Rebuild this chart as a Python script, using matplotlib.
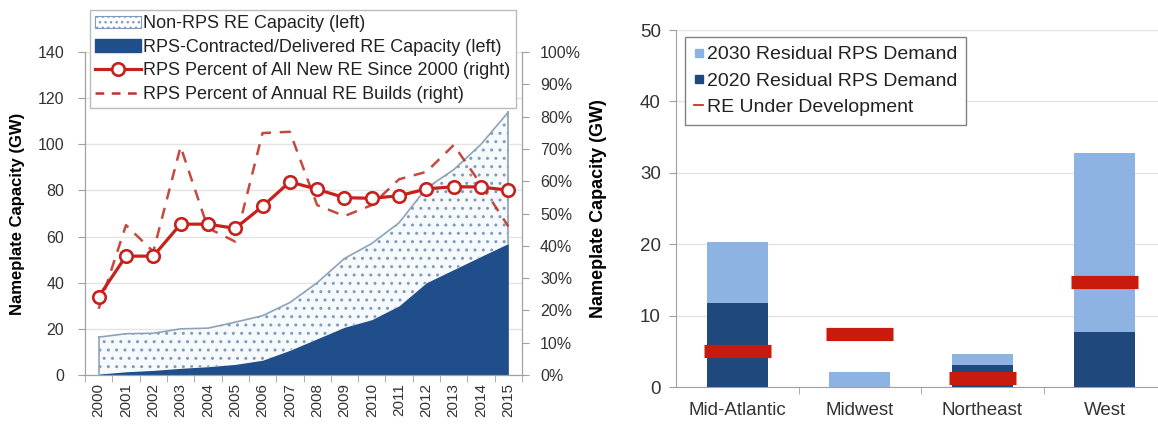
import matplotlib.pyplot as plt
import numpy as np
from matplotlib.patches import Patch
from matplotlib.lines import Line2D

plt.rcParams['font.family'] = ['Liberation Sans', 'DejaVu Sans']

# left panel data
years = [str(y) for y in range(2000, 2016)]
total_re = [16.4, 17.9, 18.1, 20, 20.3, 22.9, 25.7, 31.4, 40, 50.5, 57, 66, 81, 89, 100, 114]
rps_re = [0.4, 1.4, 2, 2.9, 3.6, 4.6, 6.4, 10.7, 15.7, 20.7, 24, 30, 40, 45.7, 51.4, 57]
pct_cum = [24.2, 36.8, 36.8, 46.7, 46.7, 45.4, 52.2, 59.8, 57.5, 54.9, 54.7, 55.5, 57.6, 58.3, 58.2, 57.2]
pct_annual = [20.5, 46.4, 38.2, 70.7, 45.5, 41.3, 74.9, 75.3, 52.6, 49.2, 52.6, 60.6, 62.9, 71.2, 59, 46]

# right panel data
regions = ['Mid-Atlantic', 'Midwest', 'Northeast', 'West']
demand_2030 = [20.3, 2.1, 4.6, 32.8]
demand_2020 = [11.7, 0, 3.1, 7.7]
re_dev = [5.0, 7.4, 1.3, 14.7]

W, H = 1158, 425
fig = plt.figure(figsize=(W / 100, H / 100), dpi=100)

dark = '#1F4E8A'
red = '#C8201C'
grid_c = '#E4E4E4'
spine_c = '#A0A0A0'
txt_c = '#333333'

# ---- left panel ----
ax1 = fig.add_axes([85 / W, 1 - 375 / H, 437 / W, 323 / H])
ax2 = ax1.twinx()
x = np.arange(len(years))

ax1.fill_between(x, rps_re, total_re, facecolor='#F7FAFD', edgecolor='#7F9CBB',
                 hatch='..', linewidth=0)
ax1.plot(x, total_re, color='#8FA3B5', lw=1.2)
ax1.plot([x[0], x[0]], [rps_re[0], total_re[0]], color='#8FA3B5', lw=1.2)
ax1.plot([x[-1], x[-1]], [rps_re[-1], total_re[-1]], color='#8FA3B5', lw=1.2)
ax1.fill_between(x, 0, rps_re, color=dark, linewidth=0)

ax2.plot(x, pct_annual, color='#C0352B', lw=1.8, dashes=(4.5, 3.5), alpha=0.9)
ax2.plot(x, pct_cum, color=red, lw=2.3, marker='o', markersize=9,
         markerfacecolor='white', markeredgecolor=red, markeredgewidth=1.9)

ax1.set_xlim(-0.5, 15.5)
ax1.set_ylim(0, 140)
ax2.set_ylim(0, 100)
ax1.set_yticks(range(0, 141, 20))
ax2.set_yticks(range(0, 101, 10))
ax2.set_yticklabels([f'{v}%' for v in range(0, 101, 10)])
ax1.set_xticks(x)
ax1.set_xticklabels(years, rotation=90)
ax1.set_xticks(np.arange(-0.5, 16, 1), minor=True)
ax1.tick_params(axis='x', which='major', length=0, pad=6, labelsize=11, labelcolor=txt_c)
ax1.tick_params(axis='x', which='minor', length=5, color=spine_c)
ax1.tick_params(axis='y', length=5, color=spine_c, labelsize=11.5, labelcolor=txt_c, pad=10)
ax2.tick_params(axis='y', length=5, color=spine_c, labelsize=11.5, labelcolor=txt_c, pad=8)
ax1.yaxis.grid(True, color=grid_c, lw=1)
ax1.set_axisbelow(True)
for a in (ax1, ax2):
    a.spines['top'].set_visible(False)
    for s in ('left', 'right', 'bottom'):
        a.spines[s].set_color(spine_c)
ax1.set_ylabel('Nameplate Capacity (GW)', fontsize=12, fontweight='bold')
ax1.yaxis.set_label_coords(-0.137, 0.5)

handles = [
    Patch(facecolor='white', edgecolor='#7F9CBB', hatch='...', linewidth=0.8),
    Patch(facecolor=dark, edgecolor=dark),
    Line2D([], [], color=red, lw=2.3, marker='o', markersize=9,
           markerfacecolor='white', markeredgecolor=red, markeredgewidth=1.9),
    Line2D([], [], color='#C0352B', lw=1.8, dashes=(3.5, 3)),
]
labels = ['Non-RPS RE Capacity (left)', 'RPS-Contracted/Delivered RE Capacity (left)',
          'RPS Percent of All New RE Since 2000 (right)', 'RPS Percent of Annual RE Builds (right)']
leg1 = fig.legend(handles, labels, loc='upper left', bbox_to_anchor=(90 / W, 1 - 10 / H),
                  bbox_transform=fig.transFigure, fontsize=13, frameon=True, fancybox=False,
                  edgecolor='#BBBBBB', framealpha=1, handlelength=2.5, handletextpad=0.15,
                  labelspacing=0.36, borderpad=0.3, borderaxespad=0)
leg1.get_frame().set_linewidth(1.0)
for t in leg1.get_texts():
    t.set_color('#222222')

# ---- right panel ----
ax3 = fig.add_axes([676 / W, 1 - 387 / H, 490 / W, 357 / H])
xr = np.arange(len(regions))
ax3.bar(xr, demand_2030, width=0.5, color='#8DB3E2', zorder=2)
ax3.bar(xr, demand_2020, width=0.5, color='#1F497D', zorder=3)
ax3.hlines(re_dev, xr - 0.275, xr + 0.275, color='#C81B0E', lw=9.5, zorder=4)

ax3.set_xlim(-0.5, 3.5)
ax3.set_ylim(0, 50)
ax3.set_yticks(range(0, 51, 10))
ax3.set_xticks(xr)
ax3.set_xticklabels(regions)
ax3.set_xticks(np.arange(0.5, 3, 1), minor=True)
ax3.tick_params(axis='x', which='major', length=0, pad=11, labelsize=13.5, labelcolor=txt_c)
ax3.tick_params(axis='x', which='minor', length=5, color=spine_c)
ax3.tick_params(axis='y', length=5, color=spine_c, labelsize=13.5, labelcolor=txt_c, pad=6)
ax3.yaxis.grid(True, color=grid_c, lw=1)
ax3.set_axisbelow(True)
for s in ('top', 'right'):
    ax3.spines[s].set_visible(False)
for s in ('left', 'bottom'):
    ax3.spines[s].set_color(spine_c)
ax3.set_ylabel('Nameplate Capacity (GW)', fontsize=13, fontweight='bold')
ax3.yaxis.set_label_coords(-0.141, 0.5)

handles2 = [
    Line2D([], [], color='#8DB3E2', marker='s', markersize=6, linestyle='none'),
    Line2D([], [], color='#1F497D', marker='s', markersize=6, linestyle='none'),
    Line2D([], [], color='#C81B0E', lw=1.2),
]
labels2 = ['2030 Residual RPS Demand', '2020 Residual RPS Demand', 'RE Under Development']
leg2 = fig.legend(handles2, labels2, loc='upper left', bbox_to_anchor=(685 / W, 1 - 37 / H),
                  bbox_transform=fig.transFigure, fontsize=14, frameon=True, fancybox=False,
                  edgecolor='#808080', framealpha=1, handlelength=0.5, handletextpad=0.2,
                  labelspacing=0.45, borderpad=0.45, borderaxespad=0)
leg2.get_frame().set_linewidth(1.0)
for t in leg2.get_texts():
    t.set_color('#222222')

fig.savefig('out.png', dpi=100)
